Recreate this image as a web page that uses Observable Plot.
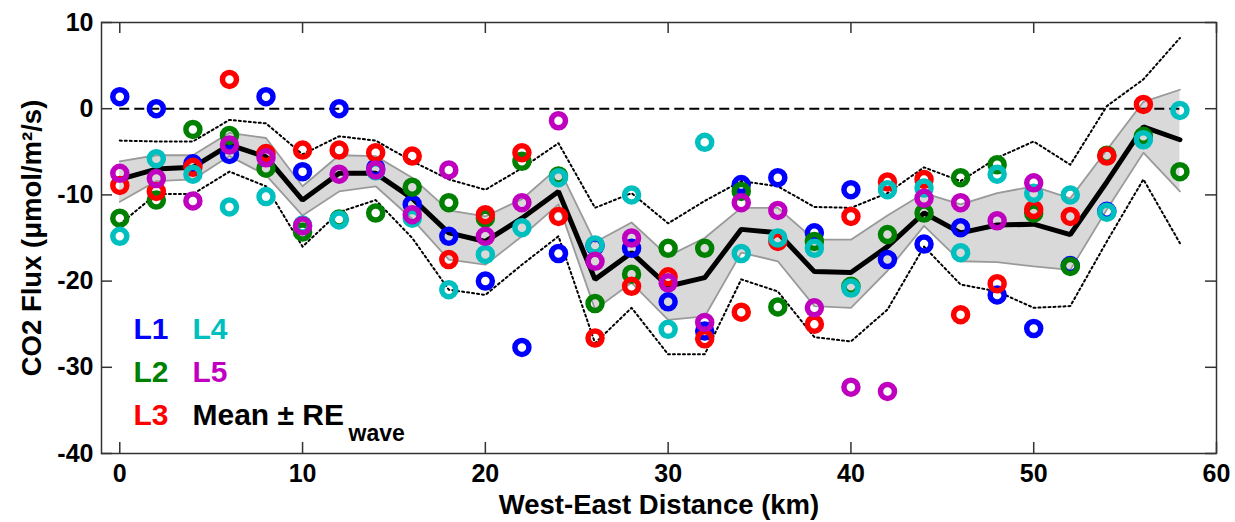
<!DOCTYPE html>
<html><head><meta charset="utf-8">
<script src="https://cdn.jsdelivr.net/npm/d3@7"></script>
<script src="https://cdn.jsdelivr.net/npm/@observablehq/plot@0.6"></script>
<style>
html,body{margin:0;padding:0;background:#fff;}
#chart svg{display:block;}
</style></head><body><div id="chart"></div>
<script>
const distance = [0,2,4,6,8,10,12,14,16,18,20,22,24,26,28,30,32,34,36,38,40,42,44,46,48,50,52,54,56,58];
const L1 = [1.4,0.0,-6.4,-5.3,1.4,-7.3,0.0,-6.9,-11.1,-14.8,-20.0,-27.7,-16.8,-15.9,-16.2,-22.4,-25.8,-8.8,-8.0,-14.4,-9.4,-17.5,-15.7,-13.8,-21.6,-25.5,-18.2,-11.9,null,null];
const L2 = [-12.7,-10.6,-2.4,-3.1,-6.9,-14.3,-12.8,-12.1,-9.1,-10.9,-12.7,-6.1,-7.8,-22.6,-19.2,-16.2,-16.2,-9.6,-23.0,-15.4,-20.6,-14.6,-12.1,-8.0,-6.5,-12.1,-18.3,-5.4,-3.2,-7.3];
const L3 = [-8.9,-9.6,-6.8,3.4,-5.2,-4.8,-4.8,-5.1,-5.5,-17.5,-12.3,-5.1,-12.5,-26.6,-20.6,-19.5,-26.7,-23.6,-15.4,-25.0,-12.5,-8.5,-8.2,-23.9,-20.3,-11.7,-12.5,-5.5,0.5,null];
const L4 = [-14.8,-5.8,-7.6,-11.4,-10.2,-13.5,-12.9,-7.2,-12.7,-21.0,-16.9,-13.8,-8.0,-15.8,-10.0,-25.6,-3.9,-16.8,-15.0,-16.2,-20.8,-9.4,-9.2,-16.7,-7.6,-9.8,-10.0,-12.0,-3.6,-0.2];
const L5 = [-7.5,-8.1,-10.7,-4.2,-5.7,-13.6,-7.6,-7.1,-12.3,-7.1,-14.8,-10.9,-1.4,-17.7,-15.0,-20.2,-24.8,-10.9,-11.8,-23.1,-32.3,-32.8,-10.4,-10.9,-13.0,-8.6,null,null,null,null];
const meanFlux = [-8.2,-7.0,-6.8,-4.2,-5.6,-10.6,-7.5,-7.5,-10.4,-14.4,-15.4,-12.7,-9.6,-19.8,-16.7,-20.6,-19.6,-14.0,-14.4,-18.9,-19.0,-16.0,-12.1,-14.4,-13.5,-13.4,-14.6,-8.5,-2.1,-3.6];
const reUpper = [-6.1,-5.4,-5.4,-2.8,-3.4,-9.0,-5.4,-5.5,-8.0,-11.8,-12.5,-10.5,-6.8,-15.5,-13.2,-17.1,-15.0,-11.5,-11.5,-15.2,-15.2,-12.4,-9.8,-11.1,-9.8,-9.0,-10.4,-4.8,0.8,2.2];
const reLower = [-10.8,-8.4,-8.2,-5.5,-7.7,-12.4,-9.6,-9.0,-12.8,-17.5,-18.1,-14.8,-11.1,-23.3,-20.2,-24.5,-24.1,-16.7,-17.7,-22.9,-23.1,-18.8,-13.6,-17.7,-17.8,-18.3,-18.7,-11.7,-5.1,-9.6];
const dottedUpper = [-3.7,-3.8,-3.8,-1.3,-1.7,-5.3,-3.2,-3.7,-6.1,-8.2,-9.4,-6.9,-4.0,-11.5,-9.8,-13.3,-10.7,-8.4,-9.0,-11.4,-11.5,-9.8,-6.8,-8.4,-5.7,-3.8,-6.5,0.3,3.4,8.2];
const dottedLower = [-13.4,-9.9,-9.9,-7.3,-9.0,-16.0,-12.0,-10.6,-15.0,-21.0,-21.6,-18.1,-14.8,-27.2,-23.1,-28.5,-28.5,-19.8,-21.2,-26.5,-27.0,-23.3,-16.0,-20.4,-21.2,-23.1,-22.9,-15.4,-8.2,-15.6];
const seriesNames = ["L1","L2","L3","L4","L5"];
const seriesColors = ["#0000ff","#008000","#ff0000","#00bfbf","#bf00bf"];
const xTicks = [0,10,20,30,40,50,60];
const yTicks = [10,0,-10,-20,-30,-40];
const xLabel = "West-East Distance (km)";
const yLabel = "CO2 Flux (\u03bcmol/m\u00b2/s)";
const meanLabel = "Mean \u00b1 RE";
const meanSub = "wave";

const seriesValues = [L1,L2,L3,L4,L5];
const points = seriesValues.map(vals => vals.map((v,j)=>({x: distance[j], y: v})).filter(d => d.y != null));
const band = distance.map((x,i)=>({x, mean: meanFlux[i], lo: reLower[i], hi: reUpper[i], dlo: dottedLower[i], dhi: dottedUpper[i]}));

const W=1235, H=522, mL=101, mR=19, mT=22, mB=69;
const plotW = W-mL-mR, plotH = H-mT-mB, tk = 11;
const font = "'Liberation Sans', Arial, Helvetica, sans-serif";

const marks = [
  Plot.areaY(band, {x:"x", y1:"lo", y2:"hi", fill:"#d9d9d9"}),
  Plot.line(band, {x:"x", y:"hi", stroke:"#9a9a9a", strokeWidth:1.8}),
  Plot.line(band, {x:"x", y:"lo", stroke:"#9a9a9a", strokeWidth:1.8}),
  Plot.line(band, {x:"x", y:"dhi", stroke:"#000", strokeWidth:2, strokeDasharray:"2,3"}),
  Plot.line(band, {x:"x", y:"dlo", stroke:"#000", strokeWidth:2, strokeDasharray:"2,3"}),
  Plot.line(band, {x:"x", y:"mean", stroke:"#000", strokeWidth:5, strokeLinejoin:"miter"}),
  Plot.ruleY([0], {x1: distance[0], x2: distance[distance.length-1], stroke:"#000", strokeWidth:2, strokeDasharray:"10,5"}),
  ...points.map((p,i)=>Plot.dot(p, {x:"x", y:"y", r:7, stroke:seriesColors[i], strokeWidth:5.5, fill:"none"})),
  Plot.frame({stroke:"#333", strokeWidth:1.5}),
  Plot.tickX(xTicks, {x:d=>d, insetTop: plotH-tk, stroke:"#333", strokeWidth:1.5}),
  Plot.tickX(xTicks, {x:d=>d, insetBottom: plotH-tk, stroke:"#333", strokeWidth:1.5}),
  Plot.tickY(yTicks, {y:d=>d, insetRight: plotW-tk, stroke:"#333", strokeWidth:1.5}),
  Plot.tickY(yTicks, {y:d=>d, insetLeft: plotW-tk, stroke:"#333", strokeWidth:1.5}),
  Plot.axisX(xTicks, {tickSize:0, tickPadding:11, fontSize:25, label:null, tickFormat:d=>String(d)}),
  Plot.axisY(yTicks, {tickSize:0, tickPadding:8, fontSize:25, label:null, tickFormat:d=>String(d)}),
  Plot.text([xLabel], {text:d=>d, frameAnchor:"bottom", textAnchor:"middle", lineAnchor:"middle", dy:52, fontSize:27.5}),
  Plot.text([yLabel], {text:d=>d, frameAnchor:"left", textAnchor:"middle", lineAnchor:"middle", dx:-69, rotate:-90, fontSize:27.5}),
  ...seriesNames.map((name,i)=>Plot.text([name], {text:d=>d, frameAnchor:"top-left", textAnchor:"start", lineAnchor:"middle", dx:32+Math.floor(i/3)*59, dy:307+(i%3)*43, fill:seriesColors[i], fontSize:30})),
  Plot.text([meanLabel], {text:d=>d, frameAnchor:"top-left", textAnchor:"start", lineAnchor:"middle", dx:91, dy:393, fill:"#000", fontSize:30}),
  Plot.text([meanSub], {text:d=>d, frameAnchor:"top-left", textAnchor:"start", lineAnchor:"middle", dx:247, dy:411, fill:"#000", fontSize:23})
];

const chart = Plot.plot({
  width: W, height: H,
  marginLeft: mL, marginRight: mR, marginTop: mT, marginBottom: mB,
  x: {domain: [-1, 60], label: null},
  y: {domain: [-40, 10], label: null},
  style: {fontFamily: font, fontWeight: "bold", background: "white", color: "black"},
  marks
});
document.getElementById("chart").appendChild(chart);
</script></body></html>
